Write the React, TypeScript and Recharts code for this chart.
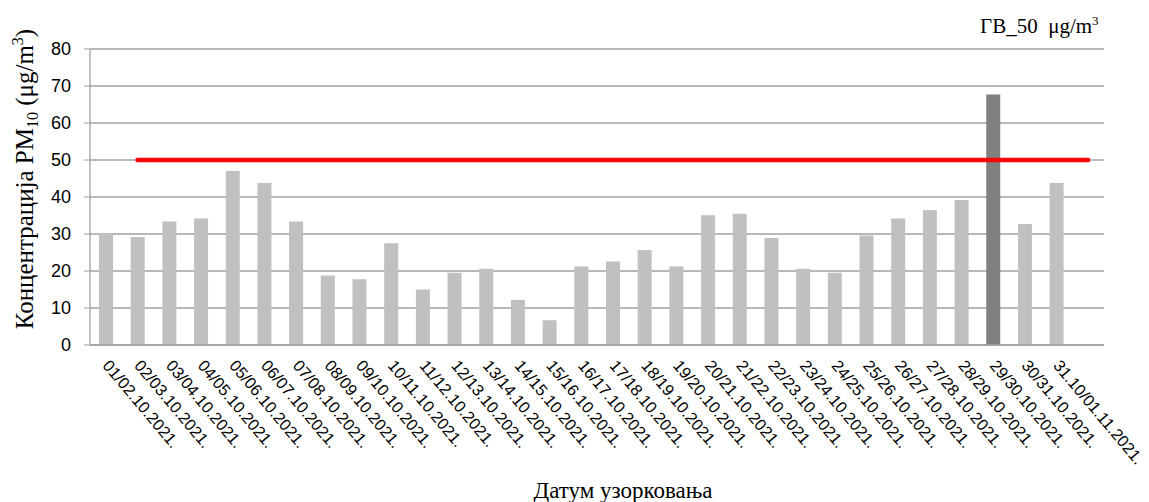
import React from 'react';
import { ComposedChart, Bar, Line, XAxis, YAxis, CartesianGrid, Cell } from 'recharts';

const categories: string[] = [
  '01/02.10.2021.', '02/03.10.2021.', '03/04.10.2021.', '04/05.10.2021.', '05/06.10.2021.',
  '06/07.10.2021.', '07/08.10.2021.', '08/09.10.2021.', '09/10.10.2021.', '10/11.10.2021.',
  '11/12.10.2021.', '12/13.10.2021.', '13/14.10.2021.', '14/15.10.2021.', '15/16.10.2021.',
  '16/17.10.2021.', '17/18.10.2021.', '18/19.10.2021.', '19/20.10.2021.', '20/21.10.2021.',
  '21/22.10.2021.', '22/23.10.2021.', '23/24.10.2021.', '24/25.10.2021.', '25/26.10.2021.',
  '26/27.10.2021.', '27/28.10.2021.', '28/29.10.2021.', '29/30.10.2021.', '30/31.10.2021.',
  '31.10/01.11.2021.', '',
];

const pm10: (number | null)[] = [
  30.2, 29.2, 33.4, 34.2, 47.0, 43.8, 33.4, 18.8, 17.8, 27.5,
  15.0, 19.5, 20.6, 12.2, 6.7, 21.2, 22.6, 25.7, 21.2, 35.1,
  35.5, 28.9, 20.6, 19.5, 29.6, 34.2, 36.5, 39.2, 67.7, 32.7,
  43.8, null,
];

const limitValue = 50;
const yTicks = [0, 10, 20, 30, 40, 50, 60, 70, 80];

const data = categories.map((c, i) => ({
  date: c,
  pm10: pm10[i],
  limit: i === 0 ? null : limitValue,
}));

const DateTick = (props: any) => {
  const { x, y, payload } = props;
  const ax = x - 4;
  const ay = y + 13;
  return (
    <text
      x={ax}
      y={ay}
      transform={`rotate(50, ${ax}, ${ay})`}
      textAnchor="start"
      fontFamily="'Liberation Sans', Arial, sans-serif"
      fontSize={16.3}
      fill="#000"
    >
      {payload.value}
    </text>
  );
};

export default function App() {
  return (
    <div style={{ position: 'absolute', left: 0, top: 0, width: 1149, height: 502, background: '#fff' }}>
      <ComposedChart
        width={1149}
        height={502}
        data={data}
        margin={{ top: 49, right: 45, bottom: 57, left: 30 }}
      >
        <CartesianGrid vertical={false} stroke="#a0a0a0" strokeWidth={1.3} />
        <XAxis
          dataKey="date"
          interval={0}
          height={100}
          tickLine={false}
          axisLine={{ stroke: '#a0a0a0', strokeWidth: 1.3 }}
          tick={<DateTick />}
        />
        <YAxis
          width={60}
          domain={[0, 80]}
          ticks={yTicks}
          interval={0}
          tickSize={6}
          tickMargin={13}
          tickLine={{ stroke: '#a0a0a0' }}
          axisLine={{ stroke: '#a0a0a0', strokeWidth: 1.3 }}
          tick={{ fill: '#000', fontSize: 18, fontFamily: "'Liberation Sans', Arial, sans-serif" }}
        />
        <Bar dataKey="pm10" barSize={14} isAnimationActive={false}>
          {data.map((d, i) => (
            <Cell key={i} fill={d.pm10 !== null && d.pm10 > limitValue ? '#808080' : '#c0c0c0'} />
          ))}
        </Bar>
        <Line
          dataKey="limit"
          type="linear"
          stroke="#ff0000"
          strokeWidth={4.5}
          strokeLinecap="round"
          dot={false}
          activeDot={false}
          connectNulls={false}
          isAnimationActive={false}
        />
      </ComposedChart>
      <svg
        width={1149}
        height={502}
        style={{ position: 'absolute', left: 0, top: 0, pointerEvents: 'none' }}
      >
        <text
          transform="translate(33, 179) rotate(-90)"
          textAnchor="middle"
          fontFamily="'Liberation Serif', 'Times New Roman', serif"
          fontSize={25}
          fill="#000"
        >
          Концентрација PM<tspan fontSize={16} dy={5}>10</tspan>
          <tspan dy={-5}> (μg/m</tspan>
          <tspan fontSize={16} dy={-10}>3</tspan>
          <tspan dy={10}>)</tspan>
        </text>
        <text
          x={623}
          y={498}
          textAnchor="middle"
          fontFamily="'Liberation Serif', 'Times New Roman', serif"
          fontSize={23}
          fill="#000"
        >
          Датум узорковања
        </text>
        <text
          x={980}
          y={33}
          textAnchor="start"
          fontFamily="'Liberation Serif', 'Times New Roman', serif"
          fontSize={21}
          fill="#000"
          style={{ whiteSpace: 'pre' }}
        >
          {'ГВ_50  μg/m'}<tspan fontSize={13} dy={-8}>3</tspan>
        </text>
      </svg>
    </div>
  );
}
